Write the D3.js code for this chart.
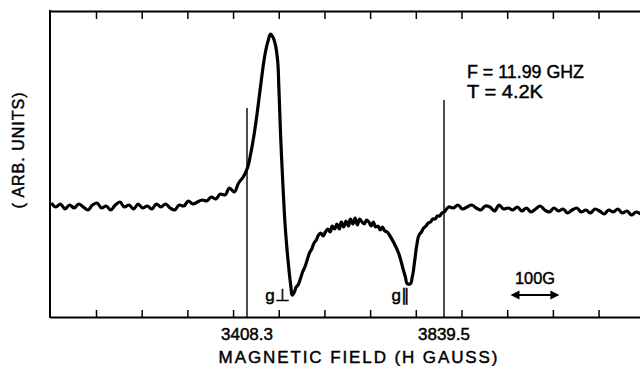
<!DOCTYPE html>
<html><head><meta charset="utf-8">
<script src="https://cdn.jsdelivr.net/npm/d3@7"></script>
<style>html,body{margin:0;padding:0;background:#fff;}svg{display:block;}</style>
</head><body><svg id="c" width="640" height="366"></svg>
<script>
// Magnetic field (gauss) and EPR signal (arbitrary units)
const field = [2980,2990,3000,3010,3020,3030,3040,3050,3060,3070,3080,3090,3100,3110,3120,3130,3140,3150,3160,3170,3180,3190,3200,3210,3220,3230,3240,3250,3260,3270,3280,3290,3300,3310,3320,3330,3340,3350,3360,3370,3380,3390,3400,3410,3415,3420,3425,3430,3435,3440,3445,3450,3455,3460,3465,3470,3475,3478,3480,3482,3485,3488,3492,3496,3500,3504,3508,3512,3516,3520,3525,3530,3535,3540,3545,3550,3555,3560,3565,3570,3575,3580,3585,3590,3595,3600,3605,3610,3615,3620,3625,3630,3635,3640,3645,3650,3655,3660,3665,3670,3675,3680,3685,3690,3695,3700,3705,3710,3715,3720,3730,3740,3750,3755,3760,3765,3770,3775,3780,3785,3790,3795,3800,3805,3810,3815,3820,3825,3830,3835,3840,3845,3850,3860,3870,3880,3890,3900,3910,3920,3930,3940,3950,3960,3970,3980,3990,4000,4010,4020,4030,4040,4050,4060,4070,4080,4090,4100,4110,4120,4130,4140,4150,4160,4170,4180,4190,4200,4210,4220,4230,4240,4250,4260,4270];
const signal = [4,0,3,-2,2,-1,3,0,-3,2,4,-1,1,-3,2,5,0,2,-2,3,-1,1,-2,3,0,3,-1,-3,2,1,6,3,5,7,6,10,8,13,12,19,15,24,30,40,50,62,76,92,110,128,145,158,167,173,170,163,148,120,95,70,40,12,-20,-43,-62,-78,-88,-85,-80,-78,-72,-65,-60,-53,-46,-42,-36,-33,-28,-26,-29,-25,-22,-25,-19,-22,-17,-22,-15,-20,-14,-19,-12,-17,-11,-18,-12,-15,-17,-13,-15,-19,-15,-20,-19,-23,-20,-24,-25,-28,-36,-46,-62,-70,-77,-77,-70,-55,-38,-28,-25,-21,-19,-16,-15,-12,-12,-9,-9,-6,-5,-2,0,-1,2,-2,0,2,-1,-3,1,0,-4,2,-2,-1,-3,0,-4,-1,-5,-2,1,-3,-5,-1,-4,-2,-6,-3,-1,-5,-3,-6,-2,-4,-7,-3,-5,-2,-6,-4,-8,-5,-7];
const tickFields = [3077.8,3177.8,3277.8,3377.8,3477.8,3577.8,3677.8,3777.8,3877.8,3977.8,4077.8,4177.8];
const markFields = [3408.3, 3839.5];
const markLabels = ["3408.3", "3839.5"];
const markTops = [108, 100];
const features = [{label:"g\u22A5", f:3475}, {label:"g\u2225", f:3745}];
const scaleBar = [3985, 4092];

const svg = d3.select("#c");
const font = "'Liberation Sans', Arial, Helvetica, sans-serif";
const x = d3.scaleLinear().domain([2977.1, 4268.5]).range([50, 640]);
const y = d3.scaleLinear().domain([-110, 196]).range([317, 11]);

// axes
const topAxis = svg.append("g").attr("transform","translate(0,11)")
  .call(d3.axisTop(x).tickValues(tickFields).tickSize(-8).tickSizeOuter(0).tickFormat(""));
const botAxis = svg.append("g").attr("transform","translate(0,317)")
  .call(d3.axisBottom(x).tickValues(tickFields).tickSize(-7).tickSizeOuter(0).tickFormat(""));
[topAxis, botAxis].forEach(g => {
  g.select(".domain").attr("stroke","#000").attr("stroke-width",2);
  g.selectAll(".tick line").attr("stroke","#000").attr("stroke-width",1.5);
});
svg.append("line").attr("x1",50).attr("x2",50).attr("y1",10).attr("y2",318)
  .attr("stroke","#000").attr("stroke-width",2);

// marker lines
svg.selectAll(".mark").data(markFields).enter().append("line")
  .attr("x1", d => x(d)).attr("x2", d => x(d))
  .attr("y1", (d,i) => markTops[i]).attr("y2", 317)
  .attr("stroke","#000").attr("stroke-width",1.4);

const txt = (sel) => sel.attr("font-family",font).attr("fill","#000")
  .attr("stroke","#000").attr("stroke-width",0.45);

svg.selectAll(".mlab").data(markFields).enter().append("text")
  .attr("x", d => x(d)).attr("y", 340).attr("text-anchor","middle")
  .attr("font-size",17).call(txt)
  .text((d,i) => markLabels[i]);

// spectrum
const pts = field.map((f,i) => [f, signal[i]]);
svg.append("path").datum(pts)
  .attr("fill","none").attr("stroke","#000").attr("stroke-width",3.2).attr("stroke-linejoin","round")
  .attr("d", d3.line().x(d => x(d[0])).y(d => y(d[1])).curve(d3.curveCatmullRom.alpha(0.9)));

// feature labels
svg.selectAll(".flab").data(features).enter().append("text")
  .attr("x", d => x(d.f)).attr("y", 301).attr("text-anchor","middle")
  .attr("font-size",17).call(txt)
  .text(d => d.label);

// annotation text
svg.append("text").attr("x",467).attr("y",78).attr("font-size",18).call(txt)
  .attr("textLength",117).attr("lengthAdjust","spacingAndGlyphs").text("F = 11.99 GHZ");
svg.append("text").attr("x",467).attr("y",98).attr("font-size",18).call(txt)
  .attr("textLength",76).attr("lengthAdjust","spacingAndGlyphs").text("T = 4.2K");
svg.append("text").attr("x",359).attr("y",363).attr("text-anchor","middle").call(txt)
  .attr("font-size",17).attr("letter-spacing",1.9).text("MAGNETIC FIELD (H GAUSS)");
svg.append("text").attr("transform","translate(24,150) rotate(-90)").attr("text-anchor","middle").call(txt)
  .attr("font-size",16).attr("letter-spacing",1).text("( ARB. UNITS)");

// 100G scale arrow
svg.append("text").attr("x",535).attr("y",284).attr("text-anchor","middle").call(txt)
  .attr("font-size",16).attr("textLength",40).attr("lengthAdjust","spacingAndGlyphs").text("100G");
const ax1 = x(scaleBar[0]), ax2 = x(scaleBar[1]);
svg.append("line").attr("x1",ax1+5).attr("x2",ax2-5).attr("y1",295).attr("y2",295)
  .attr("stroke","#000").attr("stroke-width",1.8);
svg.append("path").attr("d",`M${ax1},295 L${ax1+9},290.5 L${ax1+9},299.5 Z M${ax2},295 L${ax2-9},290.5 L${ax2-9},299.5 Z`)
  .attr("fill","#000");
</script></body></html>
